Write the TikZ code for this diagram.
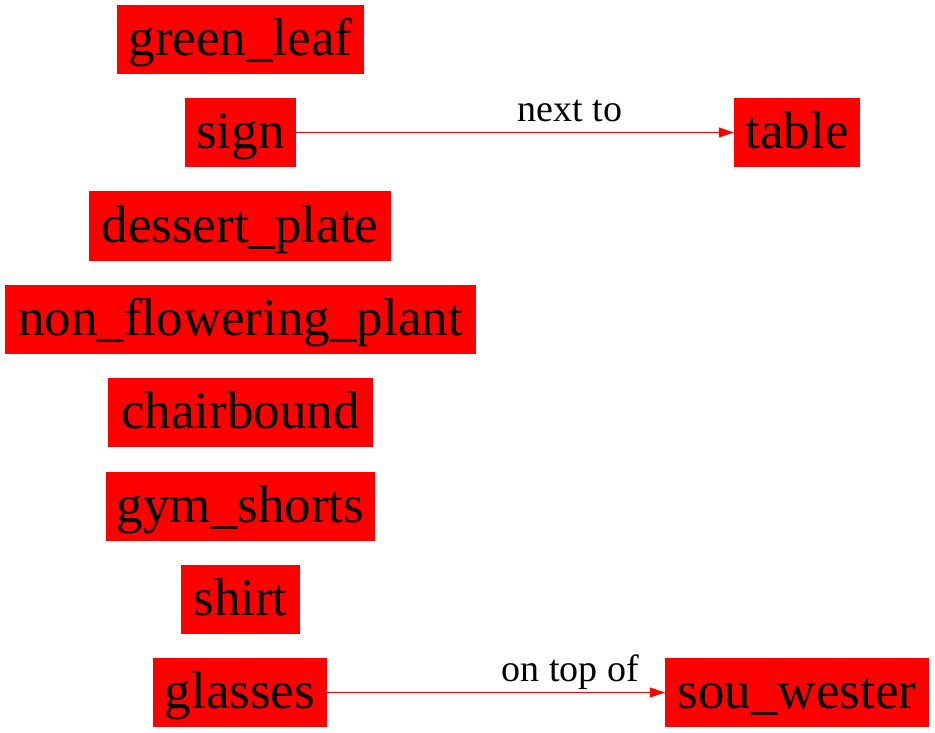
\documentclass[tikz,border=0pt]{standalone}
\usepackage{fontspec}
\setmainfont{Liberation Serif}
\usetikzlibrary{arrows.meta}
\tikzset{
  box/.style={fill=red, draw=none, inner sep=0pt, minimum height=69pt,
    font=\fontsize{53}{60}\selectfont, text height=40pt, text depth=8pt, text=black},
  rel/.style={draw=red, line width=1pt, -{Triangle[length=15pt,width=10pt]}, fill=red},
  lbl/.style={font=\fontsize{38}{44}\selectfont, text=black, anchor=base, yshift=11pt, inner sep=0pt, fill=none}
}
\begin{document}
\begin{tikzpicture}[x=1pt,y=-1pt]
\useasboundingbox (0,0) rectangle (935,733);
\node[box, minimum width=247pt] (greenleaf) at (240.5,39.5) {green\_leaf};
\node[box, minimum width=111pt] (sign) at (240.5,132.5) {sign};
\node[box, minimum width=302pt] (dessert) at (240,226) {dessert\_plate};
\node[box, minimum width=471pt] (nfp) at (240.5,319.5) {non\_flowering\_plant};
\node[box, minimum width=265pt] (chair) at (240.5,412.5) {chairbound};
\node[box, minimum width=269pt] (gym) at (240.5,506) {gym\_shorts};
\node[box, minimum width=119pt] (shirt) at (240.5,599.5) {shirt};
\node[box, minimum width=174pt] (glasses) at (240,692.5) {glasses};
\node[box, minimum width=126pt] (table) at (797,132.5) {table};
\node[box, minimum width=264pt] (souwester) at (797,692.5) {sou\_wester};
\draw[rel] (sign) -- node[lbl, pos=0.626] {next to} (table);
\draw[rel] (glasses) -- node[lbl, pos=0.72] {on top of} (souwester);
\end{tikzpicture}
\end{document}
